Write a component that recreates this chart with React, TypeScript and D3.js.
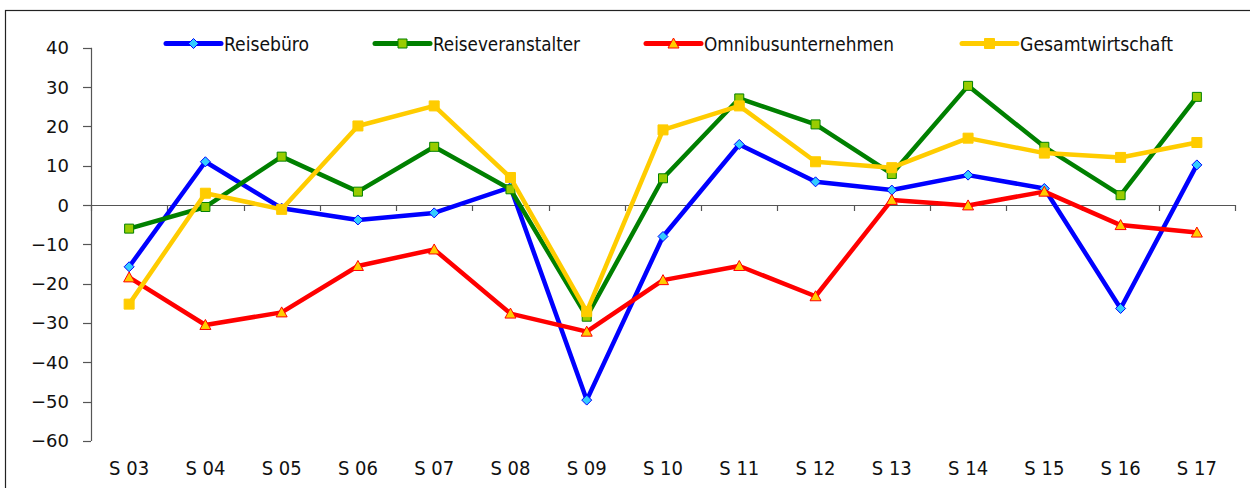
import React from "react";
import * as d3 from "d3";

const categories = ["S 03", "S 04", "S 05", "S 06", "S 07", "S 08", "S 09", "S 10", "S 11", "S 12", "S 13", "S 14", "S 15", "S 16", "S 17"];
const reisebuero = [-15.7, 11.0, -0.8, -3.8, -2.0, 4.5, -49.6, -8.0, 15.4, 5.9, 3.8, 7.6, 4.2, -26.3, 10.2];
const reiseveranstalter = [-6.0, -0.5, 12.3, 3.4, 14.8, 4.0, -28.4, 6.8, 27.1, 20.5, 7.9, 30.3, 14.8, 2.5, 27.5];
const omnibus = [-18.4, -30.5, -27.3, -15.5, -11.3, -27.6, -32.2, -19.1, -15.5, -23.2, 1.3, -0.1, 3.4, -5.1, -7.0];
const gesamt = [-25.2, 3.0, -1.1, 20.1, 25.2, 7.0, -27.1, 19.1, 25.2, 11.0, 9.5, 17.0, 13.2, 12.1, 15.9];
const yTicks = [40, 30, 20, 10, 0, -10, -20, -30, -40, -50, -60];

type Marker = "diamond" | "square" | "triangle" | "squareY";
const seriesList = [
  { name: "Reisebüro", values: reisebuero, color: "#0000FF", marker: "diamond" as Marker, mfill: "#33CCFF", mstroke: "#0000FF" },
  { name: "Reiseveranstalter", values: reiseveranstalter, color: "#008000", marker: "square" as Marker, mfill: "#99CC00", mstroke: "#008000" },
  { name: "Omnibusunternehmen", values: omnibus, color: "#FF0000", marker: "triangle" as Marker, mfill: "#FFCC00", mstroke: "#FF0000" },
  { name: "Gesamtwirtschaft", values: gesamt, color: "#FFCC00", marker: "squareY" as Marker, mfill: "#FFCC00", mstroke: "#FFCC00" },
];

const W = 1250, H = 488;
const plot = { left: 91, right: 1235, top: 47.7, bottom: 441 };
const legendX = [166, 375, 646, 962];
const legendTextW = [85, 147, 190, 153];
const legendY = 43.5;
const condFont = "'Liberation Sans Narrow', 'Arial Narrow', 'DejaVu Sans Condensed', sans-serif";
const numFont = "'DejaVu Sans', sans-serif";

function markerPath(m: Marker): string {
  switch (m) {
    case "diamond": return "M0,-5L5,0L0,5L-5,0Z";
    case "square": return "M-4.5,-4.5H4.5V4.5H-4.5Z";
    case "triangle": return "M0,-5.5L5.5,4.5L-5.5,4.5Z";
    case "squareY": return "M-5,-5H5V5H-5Z";
  }
}

export default function App() {
  const x = d3.scaleBand<string>().domain(categories).range([plot.left, plot.right]);
  const y = d3.scaleLinear().domain([-60, 40]).range([plot.bottom, plot.top]);
  const cx = (c: string) => (x(c) as number) + x.bandwidth() / 2;
  const line = d3.line<number>().x((_, i) => cx(categories[i])).y((d) => y(d));
  const fmt = d3.format("d");
  const y0 = y(0);
  const boundaries = d3.range(categories.length + 1).map((i) => plot.left + i * x.step());

  return (
    <svg width={W} height={H} style={{ position: "absolute", left: 0, top: 0, background: "#fff" }}>
      <rect x={0} y={0} width={W} height={H} fill="#fff" />
      <rect x={5.5} y={10.5} width={W + 20} height={H + 20} fill="none" stroke="#222" strokeWidth={1.2} />
      {/* y axis */}
      <line x1={plot.left + 0.5} x2={plot.left + 0.5} y1={plot.top} y2={plot.bottom} stroke="#555" strokeWidth={1.2} />
      {yTicks.map((t) => (
        <g key={t}>
          <line x1={83} x2={plot.left} y1={Math.round(y(t)) + 0.5} y2={Math.round(y(t)) + 0.5} stroke="#555" strokeWidth={1.2} />
          <text x={69} y={y(t)} dy="0.36em" textAnchor="end" fontFamily={numFont} fontSize={18} fill="#111">
            {fmt(t)}
          </text>
        </g>
      ))}
      {/* zero line */}
      <line x1={plot.left} x2={plot.right} y1={Math.round(y0) + 0.5} y2={Math.round(y0) + 0.5} stroke="#555" strokeWidth={1.2} />
      {boundaries.map((bx, i) => (
        <line key={i} x1={Math.round(bx) + 0.5} x2={Math.round(bx) + 0.5} y1={y0} y2={y0 + 6} stroke="#555" strokeWidth={1.2} />
      ))}
      {categories.map((c) => (
        <text key={c} x={cx(c)} y={475} textAnchor="middle" fontFamily={condFont} fontSize={20} fill="#111">
          {c}
        </text>
      ))}
      {/* series */}
      {seriesList.map((s) => (
        <g key={s.name}>
          <path d={line(s.values) || ""} fill="none" stroke={s.color} strokeWidth={4.5} strokeLinejoin="round" strokeLinecap="round" />
          {s.values.map((v, i) => (
            <path key={i} d={markerPath(s.marker)} transform={`translate(${cx(categories[i])},${y(v)})`} fill={s.mfill} stroke={s.mstroke} strokeWidth={1} />
          ))}
        </g>
      ))}
      {/* legend */}
      {seriesList.map((s, i) => (
        <g key={s.name} transform={`translate(${legendX[i]},${legendY})`}>
          <line x1={0} x2={55} y1={0} y2={0} stroke={s.color} strokeWidth={5} strokeLinecap="round" />
          <path d={markerPath(s.marker)} transform="translate(27.5,0)" fill={s.mfill} stroke={s.mstroke} strokeWidth={1} />
          <text x={58} y={7.5} fontFamily={condFont} fontSize={20} fill="#111" textLength={legendTextW[i]} lengthAdjust="spacingAndGlyphs">
            {s.name}
          </text>
        </g>
      ))}
    </svg>
  );
}
